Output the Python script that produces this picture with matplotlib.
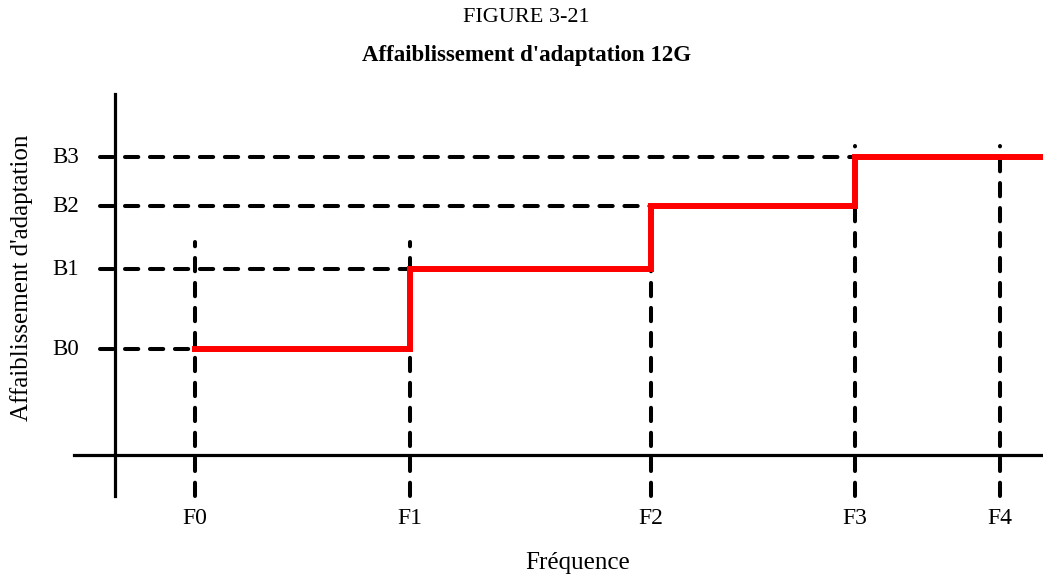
import matplotlib
matplotlib.use("Agg")
import matplotlib.pyplot as plt

plt.rcParams['font.family'] = ['Liberation Serif', 'DejaVu Serif']

# frequency marks and attenuation levels (arbitrary units, origin at the axes cross)
freq_labels = ["F0", "F1", "F2", "F3", "F4"]
freq_pos = [0.80, 2.95, 5.36, 7.40, 8.85]
level_labels = ["B0", "B1", "B2", "B3"]
level_pos = [1.06, 1.86, 2.49, 2.98]
# top end of each vertical dashed guide
freq_guide_top = [2.13, 2.13, 2.49, 3.09, 3.09]
# right end of each horizontal dashed guide
level_guide_end = [1.00, 2.95, 5.36, 7.40]
step_end = 9.27

fig = plt.figure(figsize=(10.43, 5.74), dpi=100)
ax = fig.add_axes([0, 0, 1, 1])
ax.set_xlim(-1.15, 9.28)
ax.set_ylim(-1.19, 4.55)
ax.axis("off")

# main axes lines
ax.plot([0, 0], [-0.41, 3.61], color="black", lw=2.3)
ax.plot([-0.41, 9.28], [0, 0], color="black", lw=2.3)

dash = (3.3, 2.9)
for y, xe, lab in zip(level_pos, level_guide_end, level_labels):
    ax.plot([-0.15, xe], [y, y], color="black", lw=2.9, dashes=dash,
            dash_capstyle="round")
    ax.text(-0.36, y, lab, ha="right", va="center", fontsize=16.5)

for x, yt, lab in zip(freq_pos, freq_guide_top, freq_labels):
    ax.plot([x, x], [-0.41, yt], color="black", lw=2.9, dashes=dash,
            dash_capstyle="round")
    ax.text(x, -0.63, lab, ha="center", va="center", fontsize=17)

# stepped template
xs = freq_pos[:4] + [step_end]
ys = level_pos + [level_pos[-1]]
ax.step(xs, ys, where="post", color="red", lw=4.3, solid_joinstyle="miter")

ax.text(4.63, -1.08, "Fréquence", ha="center", va="center", fontsize=18)
ax.text(-0.93, 1.77, "Affaiblissement d'adaptation", ha="center", va="center",
        rotation=90, fontsize=18)

fig.text(0.505, 1 - 18 / 574, "FIGURE 3-21", ha="center", va="center", fontsize=16)
fig.text(0.505, 1 - 56 / 574, "Affaiblissement d'adaptation 12G", ha="center",
         va="center", fontsize=16.5, fontweight="bold")

fig.savefig("out.png", dpi=100)
